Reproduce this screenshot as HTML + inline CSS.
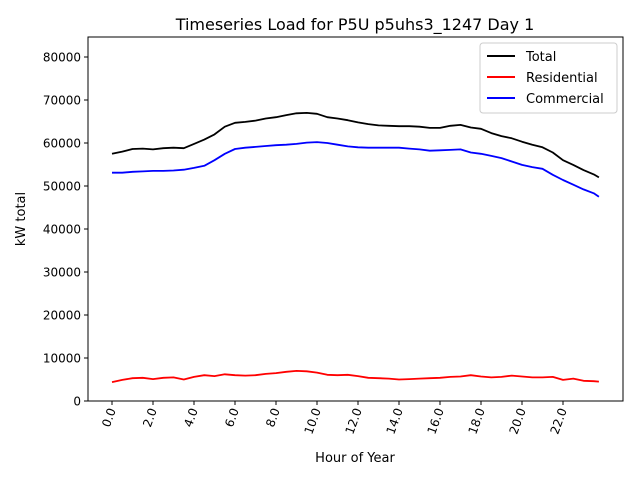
<!DOCTYPE html>
<html><head><meta charset="utf-8"><style>
body{margin:0;background:#fff}
svg text{font-family:"DejaVu Sans","Liberation Sans",sans-serif;fill:#000}
</style></head><body>
<svg id="chart" width="640" height="480" viewBox="0 0 640 480">
<text x="355" y="30" font-size="16" text-anchor="middle">Timeseries Load for P5U p5uhs3_1247  Day 1</text>
<g id="ticks"></g>
<g id="series"></g>
<rect x="88" y="37" width="535" height="364" fill="none" stroke="#000" stroke-width="1"/>
<text x="355" y="462" font-size="13" text-anchor="middle">Hour of Year</text>
<text x="25" y="219" font-size="13" text-anchor="middle" transform="rotate(-90 25 219)">kW total</text>
<g>
<rect x="480" y="43" width="137" height="70" rx="3" fill="#fff" stroke="#ccc"/>
<line x1="487" y1="56" x2="515" y2="56" stroke="#000" stroke-width="2"/>
<text x="526" y="61" font-size="13">Total</text>
<line x1="487" y1="77" x2="515" y2="77" stroke="#f00" stroke-width="2"/>
<text x="526" y="82" font-size="13">Residential</text>
<line x1="487" y1="98" x2="515" y2="98" stroke="#00f" stroke-width="2"/>
<text x="526" y="103" font-size="13">Commercial</text>
</g>
</svg>
<script>
const hours=[0,0.5,1,1.5,2,2.5,3,3.5,4,4.5,5,5.5,6,6.5,7,7.5,8,8.5,9,9.5,10,10.5,11,11.5,12,12.5,13,13.5,14,14.5,15,15.5,16,16.5,17,17.5,18,18.5,19,19.5,20,20.5,21,21.5,22,22.5,23,23.5,23.75];
const totalLoad=[57500,58000,58600,58700,58500,58800,58900,58800,59800,60800,62000,63800,64700,64900,65200,65700,66000,66500,66900,67000,66800,66000,65700,65300,64800,64400,64100,64000,63900,63900,63800,63500,63500,64000,64200,63600,63300,62300,61600,61100,60300,59600,59000,57800,56000,54900,53700,52700,52000];
const residentialLoad=[4400,4900,5300,5400,5100,5400,5500,5000,5600,6000,5800,6200,6000,5900,6000,6300,6500,6800,7000,6900,6600,6100,6000,6100,5800,5400,5300,5200,5000,5100,5200,5300,5400,5600,5700,6000,5700,5500,5600,5900,5700,5500,5500,5600,4900,5200,4700,4600,4500];
const commercialLoad=[53100,53100,53300,53400,53500,53500,53600,53800,54200,54700,56000,57500,58600,58900,59100,59300,59500,59600,59800,60100,60200,60000,59600,59200,59000,58900,58900,58900,58900,58700,58500,58200,58300,58400,58500,57800,57500,57000,56500,55700,54900,54400,54000,52600,51400,50300,49200,48300,47500];
const xTicks=[0,2,4,6,8,10,12,14,16,18,20,22];
const yTicks=[0,10000,20000,30000,40000,50000,60000,70000,80000];
const NS="http://www.w3.org/2000/svg";
function xs(h){return 112+h*20.5;}
function ys(v){return 401-v*43/10000;}
const tg=document.getElementById('ticks');
function mk(tag,attrs,parent){const e=document.createElementNS(NS,tag);for(const k in attrs)e.setAttribute(k,attrs[k]);parent.appendChild(e);return e;}
xTicks.forEach(t=>{
  const x=xs(t);
  const l=mk('line',{x1:x,y1:401,x2:x,y2:405,stroke:'#000'},tg);
  
  
  const tx=mk('text',{x:x+4,y:410,'font-size':12,'text-anchor':'end',transform:`rotate(-70 ${x+4} 410)`},tg);
  tx.textContent=t.toFixed(1);
  
  
});
yTicks.forEach(t=>{
  const y=ys(t);
  const l=mk('line',{x1:84,y1:y,x2:88,y2:y,stroke:'#000'},tg);
  
  
  const tx=mk('text',{x:81,y:y+4.5,'font-size':12,'text-anchor':'end'},tg);
  tx.textContent=t;
  
  
});
const sg=document.getElementById('series');
function line(vals,color,name){
  const d=vals.map((v,i)=>(i?'L':'M')+xs(hours[i]).toFixed(1)+' '+ys(v).toFixed(1)).join(' ');
  const p=mk('path',{d:d,fill:'none',stroke:color,'stroke-width':1.8,'stroke-linejoin':'round'},sg);
  
  
}
line(totalLoad,'#000','total-line');
line(residentialLoad,'#f00','residential-line');
line(commercialLoad,'#00f','commercial-line');
</script>
</body></html>
